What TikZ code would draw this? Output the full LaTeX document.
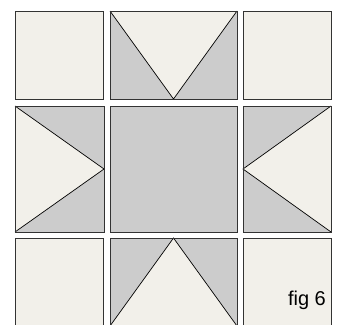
\documentclass[tikz,border=0pt]{standalone}
\usepackage{fontspec}
\setmainfont{Liberation Sans}
\definecolor{cream}{HTML}{F2F0EA}
\definecolor{patch}{HTML}{CCCCCC}
\tikzset{
  block/.style={draw=black!80, line width=1pt},
  seam/.style={draw=black, line width=0.7pt, line join=miter},
}
\begin{document}
\begin{tikzpicture}[x=1pt,y=-1pt]
\useasboundingbox (0,0) rectangle (342,324);
\clip (0,0) rectangle (342,324);
\fill[white] (0,0) rectangle (342,324);

% plain corner squares
\foreach \x/\y in {15/11,243/11,15/238,243/238}
  \filldraw[fill=cream, block] (\x,\y) rectangle ++(88,88);

% centre square
\filldraw[fill=patch, block] (110,106) rectangle (237,232);

% top goose
\fill[patch] (110,11) rectangle (237,99);
\filldraw[fill=cream, seam] (110,11) -- (173.5,99) -- (237,11);
\draw[block] (110,11) rectangle (237,99);

% bottom goose
\fill[patch] (110,238) rectangle (237,326);
\filldraw[fill=cream, seam] (110,326) -- (173.5,238) -- (237,326);
\draw[block] (110,238) rectangle (237,326);

% left goose
\fill[patch] (15,106) rectangle (104,232);
\filldraw[fill=cream, seam] (15,106) -- (104,169) -- (15,232);
\draw[block] (15,106) rectangle (104,232);

% right goose
\fill[patch] (243,106) rectangle (331,232);
\filldraw[fill=cream, seam] (331,106) -- (243,169) -- (331,232);
\draw[block] (243,106) rectangle (331,232);

\node[anchor=base east, inner sep=0pt, font=\fontsize{20}{24}\selectfont] (caption) at (326,305) {fig 6};
\end{tikzpicture}
\end{document}
